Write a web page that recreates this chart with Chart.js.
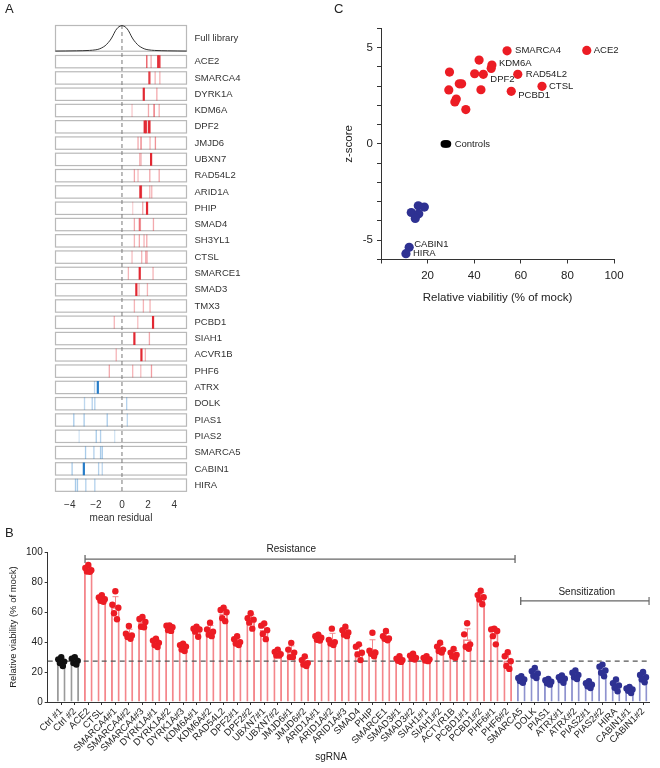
<!DOCTYPE html>
<html>
<head>
<meta charset="utf-8">
<script src="https://cdn.jsdelivr.net/npm/chart.js@4.4.1/dist/chart.umd.min.js"></script>
<style>
  body { margin: 0; background: #fff; font-family: "Liberation Sans", Arial, sans-serif; }
  #page { position: relative; width: 660px; height: 768px; overflow: hidden; background: #fff; }
  canvas { position: absolute; }
  .tag { position: absolute; font-size: 13px; color: #222; }
</style>
</head>
<body>
<div id="page">
  <canvas id="chartA" width="250" height="528" style="left:0;top:0"></canvas>
  <canvas id="chartC" width="330" height="310" style="left:330px;top:0"></canvas>
  <canvas id="chartB" width="660" height="233" style="left:0;top:535px"></canvas>
  <div class="tag" style="left:5px;top:1px">A</div>
  <div class="tag" style="left:334px;top:1px">C</div>
  <div class="tag" style="left:5px;top:525px">B</div>
</div>
<script>
// ===============================
// Data - panel A (screen residuals per guide)
// ===============================
const screenGenes = ["ACE2", "SMARCA4", "DYRK1A", "KDM6A", "DPF2", "JMJD6", "UBXN7", "RAD54L2",
  "ARID1A", "PHIP", "SMAD4", "SH3YL1", "CTSL", "SMARCE1", "SMAD3", "TMX3", "PCBD1", "SIAH1",
  "ACVR1B", "PHF6", "ATRX", "DOLK", "PIAS1", "PIAS2", "SMARCA5", "CABIN1", "HIRA"];
const resistanceHits = 20; // first 20 genes are red, the rest blue

const guideResiduals = [
  [1.90, 2.23, 2.77, 2.87],
  [2.10, 2.54, 2.90],
  [1.67, 2.67],
  [0.77, 2.03, 2.46, 2.85],
  [1.74, 1.85, 2.08, 2.15],
  [1.23, 1.46, 2.15, 2.56],
  [1.36, 1.46, 2.23],
  [0.95, 1.23, 2.13, 2.85],
  [1.41, 1.49, 2.13, 2.28],
  [0.82, 1.59, 1.92],
  [0.95, 1.33, 1.41, 2.41],
  [0.95, 1.33, 1.69, 1.90],
  [0.77, 1.51, 1.82, 1.92],
  [0.49, 1.36, 2.38],
  [1.10, 1.31, 1.95],
  [0.95, 1.64, 2.15],
  [-0.59, 1.21, 2.38],
  [0.95, 2.10],
  [-0.44, 1.49, 1.79],
  [-0.97, 0.82, 1.44, 2.26],
  [-2.10, -1.85],
  [-2.87, -2.28, -2.08, 0.36],
  [-3.69, -2.90, -1.13, 0.41],
  [-3.28, -1.97, -1.64, -0.56],
  [-2.79, -2.15, -1.64, -1.51],
  [-3.82, -2.92, -1.79, -1.51],
  [-3.56, -3.41, -2.77, -2.08]
];
const guideShade = [
  [0.8, 0.4, 0.9, 0.9],
  [0.9, 0.35, 0.35],
  [1.0, 0.4],
  [0.25, 0.4, 0.7, 0.35],
  [1.0, 0.9, 1.0, 0.6],
  [0.4, 0.6, 0.35, 0.5],
  [0.35, 0.35, 1.0],
  [0.4, 0.3, 0.4, 0.4],
  [1.0, 0.8, 0.35, 0.35],
  [0.2, 0.4, 1.0],
  [0.4, 0.6, 0.5, 0.4],
  [0.35, 0.4, 0.35, 0.4],
  [0.3, 0.35, 0.4, 0.4],
  [0.35, 1.0, 0.35],
  [1.0, 0.3, 0.35],
  [0.35, 0.35, 0.35],
  [0.35, 0.3, 1.0],
  [1.0, 0.4],
  [0.35, 1.0, 0.35],
  [0.4, 0.35, 0.3, 0.45],
  [0.3, 1.0],
  [0.3, 0.35, 0.35, 0.35],
  [0.4, 0.4, 0.4, 0.3],
  [0.2, 0.4, 0.35, 0.2],
  [0.4, 0.35, 0.4, 0.4],
  [0.4, 1.0, 0.35, 0.3],
  [0.4, 0.4, 0.35, 0.35]
];

// full library density (peak = 1)
const libraryX = [-5.1, -3.5, -2.5, -2.0, -1.7, -1.4, -1.2, -0.9, -0.7, -0.5, -0.3, -0.15, 0,
  0.15, 0.3, 0.5, 0.7, 0.9, 1.2, 1.4, 1.7, 2.0, 2.5, 3.5, 4.95];
const libraryDensity = [0, 0.01, 0.025, 0.05, 0.09, 0.17, 0.25, 0.43, 0.6, 0.8, 0.93, 0.98, 1,
  0.98, 0.93, 0.8, 0.6, 0.43, 0.25, 0.17, 0.09, 0.05, 0.025, 0.01, 0];

// ===============================
// Data - panel C
// ===============================
const hitViability = [54.1, 88.3, 42.1, 47.6, 47.3, 29.4, 40.2, 43.9, 58.7, 33.6, 34.6, 69.1, 29.1, 42.9, 55.9, 32.3, 31.7, 36.4];
const hitZ = [4.83, 4.85, 4.35, 4.09, 3.92, 3.73, 3.64, 3.61, 3.61, 3.12, 3.12, 2.99, 2.80, 2.81, 2.73, 2.33, 2.18, 1.78];
const hitNames = ["SMARCA4", "ACE2", "", "KDM6A", "", "", "", "DPF2", "RAD54L2", "", "", "CTSL", "", "", "PCBD1", "", "", ""];

const controlViability = [27.1, 27.6, 28.1, 28.6];
const controlZ = [0, 0, 0, 0];
const controlNames = ["", "", "", "Controls"];

const sensViability = [16.0, 18.6, 13.0, 16.2, 14.7, 12.1, 10.7];
const sensZ = [-3.21, -3.28, -3.56, -3.63, -3.87, -5.37, -5.70];
const sensNames = ["", "", "", "", "", "CABIN1", "HIRA"];

// ===============================
// Data - panel B (replicate viability, % of mock)
// ===============================
const sgRNAs = ["Ctrl #1", "Ctrl #2", "ACE2", "CTSL", "SMARCA4#1", "SMARCA4#2", "SMARCA4#3",
  "DYRK1A#1", "DYRK1A#2", "DYRK1A#3", "KDM6A#1", "KDM6A#2", "RAD54L2", "DPF2#1", "DPF2#2",
  "UBXN7#1", "UBXN7#2", "JMJD6#1", "JMJD6#2", "ARID1A#1", "ARID1A#2", "ARID1A#3", "SMAD4",
  "PHIP", "SMARCE1", "SMAD3#1", "SMAD3#2", "SIAH1#1", "SIAH1#2", "ACTVR1B", "PCBD1#1",
  "PCBD1#2", "PHF6#1", "PHF6#2", "SMARCA5", "DOLK", "PIAS1", "ATRX#1", "ATRX#2", "PIAS2#1",
  "PIAS2#2", "HIRA", "CABIN1#1", "CABIN1#2"];
const nControls = 2, nResistance = 32;

const viabilityReps = [
  [30, 28.5, 27, 26, 24],
  [30, 29, 27.5, 26, 25],
  [91.5, 89.5, 88, 87.2, 87],
  [71.4, 69.8, 68.6, 67.6, 67],
  [74, 65, 63, 59.3, 55.3],
  [50.8, 45.6, 44.5, 43.5, 42.3],
  [56.8, 55.5, 53.5, 50.3, 49.9],
  [42.3, 41, 39.5, 38, 36.7],
  [51.2, 51, 50, 48, 47.5],
  [39, 38, 37, 35, 34],
  [50.3, 49, 48.5, 47, 43.6],
  [53, 48.5, 47, 45, 44],
  [63, 61.5, 60, 56, 54],
  [44, 42, 40, 39, 38],
  [59.3, 56, 55, 53, 49],
  [52.5, 51, 48, 45.5, 42],
  [35, 33.5, 32, 31, 31],
  [39.5, 35, 33, 30, 30],
  [30.5, 28, 26, 25, 24],
  [45, 44, 43, 41.5, 41],
  [49, 41.5, 40, 39, 38],
  [50.3, 48, 46.5, 45, 44],
  [38.5, 36.9, 32.9, 31.8, 28],
  [46.3, 34.2, 32.9, 32.2, 30.6],
  [47.4, 44, 42.5, 42.3, 41.2],
  [30.6, 29, 28, 27.5, 26.8],
  [32.2, 31, 29.5, 29, 28.4],
  [30.6, 29.5, 28.5, 27.7, 27.3],
  [39.6, 37, 35, 34, 33],
  [35.5, 33, 31.5, 30.6, 29.5],
  [52.6, 45.2, 38.5, 36.9, 35.6],
  [74.3, 71.4, 70, 68.5, 65.3],
  [49, 48.5, 47.4, 44, 38.5],
  [33.3, 30.6, 27.3, 24, 22.1],
  [17.2, 16, 15, 14, 12.8],
  [22.8, 20.5, 19, 17.5, 16],
  [15.4, 14.5, 13.5, 12.5, 11.6],
  [17.7, 16.5, 15.5, 14.5, 12.8],
  [21, 19.5, 18, 16.5, 15.4],
  [13.9, 12.5, 11.5, 10.5, 9.4],
  [25, 23.5, 21, 19.5, 17.2],
  [15, 12.5, 11, 9.5, 7.2],
  [10, 9, 8.4, 7.5, 6],
  [20, 18, 16.5, 15, 13.2]
];
const controlLevel = 27.3;

// ===============================
// Common
// ===============================
const FONT = '"Liberation Sans", Arial, sans-serif';
Chart.defaults.font.family = FONT;
Chart.defaults.color = "#222";
Chart.defaults.animation = false;
Chart.defaults.plugins.legend.display = false;
Chart.defaults.plugins.tooltip.enabled = false;

// ===============================
// Panel A
// ===============================
const ROW_HALF = 0.41;
const LIB_TOP = -1.25, LIB_BOTTOM = 0.39;

const stripBoxes = {
  id: "stripBoxes",
  beforeDatasetsDraw(chart) {
    const { ctx, scales: { x, y } } = chart;
    const left = x.getPixelForValue(x.min), right = x.getPixelForValue(x.max);
    ctx.save();
    ctx.strokeStyle = "#b9b9b9";
    ctx.lineWidth = 1.2;
    const box = (a, b) => {
      const t = y.getPixelForValue(a), bt = y.getPixelForValue(b);
      ctx.strokeRect(left + 0.5, t + 0.5, right - left - 1, bt - t - 1);
    };
    box(LIB_TOP, LIB_BOTTOM);
    screenGenes.forEach((g, i) => box(i + 1 - ROW_HALF, i + 1 + ROW_HALF));
    ctx.restore();
  }
};

const guidePoints = [], guideColors = [], guideWidths = [];
screenGenes.forEach((g, i) => {
  const rgb = i < resistanceHits ? "226,40,50" : "38,124,200";
  guideResiduals[i].forEach((r, j) => {
    const s = guideShade[i][j];
    guidePoints.push({ x: r, y: i + 1 });
    guideColors.push("rgba(" + rgb + "," + s + ")");
    guideWidths.push(s > 0.85 ? 2.2 : 1.3);
  });
});

new Chart(document.getElementById("chartA"), {
  type: "scatter",
  data: {
    datasets: [
      {
        data: guidePoints, pointStyle: "line", pointRotation: 90, pointRadius: 6.4,
        pointBorderColor: guideColors, pointBorderWidth: guideWidths, order: 0
      },
      {
        type: "line",
        data: libraryX.map((x, i) => ({ x, y: LIB_BOTTOM - 0.04 - libraryDensity[i] * 1.56 })),
        borderColor: "#333", borderWidth: 1, pointRadius: 0, tension: 0.35, order: 1
      },
      {
        type: "line", data: [{ x: 0, y: LIB_TOP }, { x: 0, y: 27.6 }],
        borderColor: "#777", borderWidth: 1, borderDash: [4, 3], pointRadius: 0, order: 2
      }
    ]
  },
  options: {
    responsive: false,
    layout: { padding: { left: 55, top: 25, right: 0, bottom: 0 } },
    scales: {
      x: {
        type: "linear", min: -5.13, max: 4.98,
        afterBuildTicks: a => { a.ticks = [-4, -2, 0, 2, 4].map(v => ({ value: v })); },
        ticks: { callback: v => v < 0 ? "\u2212" + (-v) : String(v), font: { size: 10 }, color: "#333", padding: 7 },
        grid: { display: false, drawTicks: false },
        border: { display: false },
        title: { display: true, text: "mean residual", font: { size: 10 }, color: "#333", padding: { top: 2, bottom: 4 } },
        afterFit: a => { a.height = 35.5; }
      },
      y: {
        type: "linear", position: "right", reverse: true, min: LIB_TOP, max: 27.45,
        afterBuildTicks: a => {
          a.ticks = [{ value: (LIB_TOP + LIB_BOTTOM) / 2 }].concat(screenGenes.map((g, i) => ({ value: i + 1 })));
        },
        ticks: {
          autoSkip: false, padding: 7.5, color: "#333", font: { size: 9.5 },
          callback: (v, i) => i === 0 ? "Full library" : screenGenes[i - 1]
        },
        grid: { display: false, drawTicks: false },
        border: { display: false },
        afterFit: a => { a.width = 63; }
      }
    }
  },
  plugins: [stripBoxes]
});

// ===============================
// Panel C
// ===============================
const pointLabels = {
  id: "pointLabels",
  afterDatasetsDraw(chart) {
    const { ctx } = chart;
    ctx.save();
    ctx.font = "9.5px " + FONT;
    ctx.fillStyle = "#222";
    ctx.textBaseline = "middle";
    chart.data.datasets.forEach((ds, di) => {
      if (!ds.names) return;
      const meta = chart.getDatasetMeta(di);
      ds.names.forEach((t, j) => {
        if (!t) return;
        const nudge = labelNudge[t] || [8, 0];
        ctx.fillText(t, meta.data[j].x + nudge[0], meta.data[j].y + nudge[1]);
      });
    });
    ctx.restore();
  }
};
const labelNudge = { ACE2: [7, 0], KDM6A: [7, -2], DPF2: [7, 5], PCBD1: [7, 4], CTSL: [7, 0],
  Controls: [7, 0], CABIN1: [5, -3], HIRA: [7, 0] };

const toXY = (xs, ys) => xs.map((x, i) => ({ x, y: ys[i] }));

new Chart(document.getElementById("chartC"), {
  type: "scatter",
  data: {
    datasets: [
      { data: toXY(hitViability, hitZ), names: hitNames, backgroundColor: "#ec1c24", pointRadius: 4.6, pointBorderWidth: 0 },
      { data: toXY(controlViability, controlZ), names: controlNames, backgroundColor: "#000", pointRadius: 3.6, pointBorderWidth: 0 },
      { data: toXY(sensViability, sensZ), names: sensNames, backgroundColor: "#2e3192", pointRadius: 4.6, pointBorderWidth: 0 }
    ]
  },
  options: {
    responsive: false,
    layout: { padding: { left: 0, top: 28.3, right: 46, bottom: 5 } },
    scales: {
      x: {
        type: "linear", min: 0, max: 100,
        ticks: { stepSize: 20, callback: v => v === 0 ? "" : String(v), font: { size: 11.5 }, color: "#222", padding: 5 },
        grid: { drawOnChartArea: false, tickLength: 4, color: "#333" },
        border: { color: "#333" },
        title: { display: true, text: "Relative viabilitiy (% of mock)", font: { size: 11.5 }, color: "#222", padding: { top: 6, bottom: 0 } },
        afterFit: a => { a.height = 45.5; }
      },
      y: {
        type: "linear", min: -6, max: 6,
        ticks: { stepSize: 1, callback: v => v % 5 === 0 ? String(v) : "", font: { size: 11.5 }, color: "#222", padding: 4 },
        grid: { drawOnChartArea: false, tickLength: 4, color: "#333" },
        border: { color: "#333" },
        title: { display: true, text: "z-score", font: { size: 11.5 }, color: "#222", padding: { top: 12, bottom: 0 } },
        afterFit: a => { a.width = 51; }
      }
    }
  },
  plugins: [pointLabels]
});

// ===============================
// Panel B
// ===============================
const groupOf = i => i < nControls ? "ctrl" : (i < nControls + nResistance ? "res" : "sen");
const dotColor = { ctrl: "#111", res: "#ec1c24", sen: "#2e3192" };
const barColor = { ctrl: "#9a9a9a", res: "#f4868b", sen: "#8f93cf" };
const jitter = [0, -0.22, 0.22, -0.1, 0.12];

const means = viabilityReps.map(r => r.reduce((a, b) => a + b, 0) / r.length);
const sds = viabilityReps.map((r, i) => Math.sqrt(r.reduce((a, b) => a + (b - means[i]) ** 2, 0) / (r.length - 1)));

const repPoints = [], repColors = [];
viabilityReps.forEach((reps, i) => {
  reps.forEach((v, j) => {
    repPoints.push({ x: i + jitter[j % jitter.length], y: v });
    repColors.push(dotColor[groupOf(i)]);
  });
});

const brackets = [
  { text: "Resistance", from: 1.76, to: 33.54, y: 95.5, textX: 17.0, textY: 102.2 },
  { text: "Sensitization", from: 33.96, to: 43.45, y: 67.5, textX: 38.84, textY: 73.0 }
];

const barExtras = {
  id: "barExtras",
  afterDatasetDraw(chart, args) {
    if (args.meta.type !== "bar") return;
    const { ctx, scales: { x, y } } = chart;
    ctx.save();
    ctx.lineWidth = 1;
    means.forEach((m, i) => {
      const px = Math.round(x.getPixelForValue(i)) + 0.5;
      const top = y.getPixelForValue(m + sds[i]), base = y.getPixelForValue(m);
      ctx.strokeStyle = barColor[groupOf(i)];
      ctx.beginPath();
      ctx.moveTo(px, base); ctx.lineTo(px, top);
      ctx.moveTo(px - 3, top); ctx.lineTo(px + 3, top);
      ctx.stroke();
    });
    ctx.restore();
  },
  afterDraw(chart) {
    const { ctx, scales: { x, y } } = chart;
    ctx.save();
    ctx.fillStyle = "#222";
    ctx.font = "10px " + FONT;
    ctx.textAlign = "center";
    ctx.textBaseline = "middle";
    brackets.forEach(b => ctx.fillText(b.text, x.getPixelForValue(b.textX), y.getPixelForValue(b.textY)));
    ctx.fillText("sgRNA", 331, 222);
    ctx.restore();
  }
};

new Chart(document.getElementById("chartB"), {
  type: "bar",
  data: {
    datasets: [
      {
        type: "scatter", data: repPoints, pointRadius: 3.2, pointBorderWidth: 0,
        pointBackgroundColor: repColors, order: 0
      },
      {
        type: "line", data: [{ x: -1, y: controlLevel }, { x: 43.5, y: controlLevel }],
        borderColor: "#555", borderWidth: 1.2, borderDash: [5, 4], pointRadius: 0, order: 1
      },
      ...brackets.map(b => ({
        type: "line", data: [{ x: b.from, y: b.y }, { x: b.to, y: b.y }],
        borderColor: "#666", borderWidth: 1.3, pointStyle: "line", pointRotation: 90,
        pointRadius: 4, pointBorderColor: "#666", pointBorderWidth: 1.3, order: 1
      })),
      {
        type: "bar", data: means.map((m, i) => ({ x: i, y: m })),
        backgroundColor: "rgba(0,0,0,0)", borderColor: means.map((m, i) => barColor[groupOf(i)]),
        borderWidth: 1.2, barThickness: 8, order: 5
      }
    ]
  },
  options: {
    responsive: false,
    layout: { padding: { left: 0, top: 17.3, right: 10.2, bottom: 0 } },
    scales: {
      x: {
        type: "linear", min: -1, max: 43.5, offset: false,
        afterBuildTicks: a => { a.ticks = sgRNAs.map((s, i) => ({ value: i })); },
        ticks: {
          autoSkip: false, minRotation: 45, maxRotation: 45, padding: 1,
          font: { size: 9.5 }, color: "#222", callback: (v, i) => sgRNAs[i]
        },
        grid: { drawOnChartArea: false, tickLength: 3, color: "#333", offset: false },
        border: { color: "#333" },
        afterFit: a => { a.height = 66; }
      },
      y: {
        type: "linear", min: 0, max: 100,
        ticks: { stepSize: 20, font: { size: 10 }, color: "#222", padding: 2 },
        grid: { drawOnChartArea: false, tickLength: 3, color: "#333" },
        border: { color: "#333" },
        title: { display: true, text: "Relative viability (% of mock)", font: { size: 9.5 }, color: "#222", padding: { top: 8, bottom: 0 } },
        afterFit: a => { a.width = 47.7; }
      }
    }
  },
  plugins: [barExtras]
});
</script>
</body>
</html>
